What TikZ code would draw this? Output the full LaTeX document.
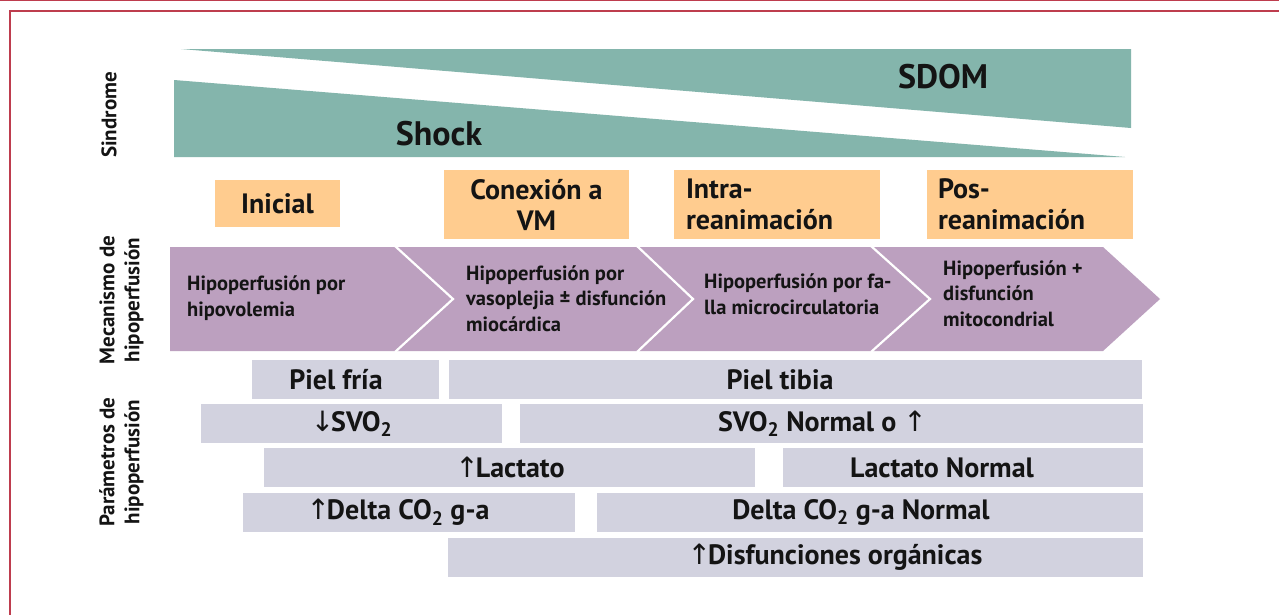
\documentclass[tikz,border=0pt]{standalone}
\usepackage{fontspec}
\setmainfont{PT Sans}
\newfontfamily\arrowfont{DejaVu Sans}
\newcommand{\myup}{{\arrowfont\mdseries ↑}}
\newcommand{\mydown}{{\arrowfont\mdseries ↓}}
\definecolor{teal1}{HTML}{84B5AC}
\definecolor{orng}{HTML}{FFCC8F}
\definecolor{purp}{HTML}{BCA0BF}
\definecolor{gry}{HTML}{D2D2DF}
\definecolor{frame}{HTML}{BE3D4E}
\definecolor{txt}{HTML}{141414}
\tikzset{
  vlabel/.style={rotate=90, font=\fontsize{21}{25}\selectfont\bfseries, text=txt, align=center, inner sep=0},
  obox/.style={fill=orng, inner sep=0, font=\fontsize{28}{31}\selectfont\bfseries, text=txt},
  mtext/.style={anchor=west, align=left, inner sep=0, font=\fontsize{20.5}{25.5}\selectfont\bfseries, text=txt},
  gbar/.style={fill=gry, inner sep=0, minimum height=38.5},
  gtext/.style={inner sep=0, font=\fontsize{28}{30}\selectfont\bfseries, text=txt},
  big/.style={inner sep=0, font=\fontsize{34}{40}\selectfont\bfseries, text=txt},
  sep/.style={draw=white, line width=2.2}
}
\begin{document}
\begin{tikzpicture}[x=1pt,y=-1pt]
\useasboundingbox (0,0) rectangle (1279,614);
\clip (0,0) rectangle (1279,614);
\fill[white] (0,0) rectangle (1279,614);
% frame
\draw[frame, line width=1] (0,0.5) -- (1279,0.5);
\draw[frame, line width=1.8] (9.8,640) -- (9.8,11) -- (1300,11);
% syndrome wedges
\fill[teal1] (181,49) -- (1131,49) -- (1131,128) -- cycle;
\fill[teal1] (174,80) -- (1125,157) -- (174,157) -- cycle;
\node[big] (sdom) at (943,77) {SDOM};
\node[big] (shock) at (439,134) {Shock};
% left labels
\node[vlabel] (sind) at (109,115) {Sindrome};
\node[vlabel] (mec) at (121.5,300) {Mecanismo de\\hipoperfusión};
\node[vlabel] (par) at (121.5,462) {Parámetros de\\hipoperfusión};
% phases
\node[obox, minimum width=125, minimum height=47] (ini) at (277.5,203.5) {Inicial};
\node[obox, minimum width=185, minimum height=69, align=center] (con) at (536.5,204.5) {Conexión a\\VM};
\node[obox, minimum height=69, text width=182, inner xsep=12, align=left] (intra) at (777,204.5) {Intra-\\reanimación};
\node[obox, minimum height=69, text width=184, inner xsep=11, align=left] (pos) at (1030,204.5) {Pos-\\reanimación};
% mechanism chevrons
\fill[purp] (170,247) -- (1103,247) -- (1160,299) -- (1103,351) -- (170,351) -- cycle;
\draw[sep] (395,246) -- (453,299) -- (395,352);
\draw[sep] (637,246) -- (693,299) -- (637,352);
\draw[sep] (871,246) -- (930,299) -- (871,352);
\node[mtext] (m1) at (187,298) {Hipoperfusión por\\hipovolemia};
\node[mtext] (m2) at (466,298.5) {Hipoperfusión por\\vasoplejia ± disfunción\\miocárdica};
\node[mtext] (m3) at (704,294.5) {Hipoperfusión por fa-\\lla microcirculatoria};
\node[mtext] (m4) at (943,293.5) {Hipoperfusión +\\disfunción\\mitocondrial};
% parameter bars
\node[gbar, minimum width=187] (pfria) at (345.5,379.5) {};
\node[gbar, minimum width=693] (ptibia) at (795.5,379.5) {};
\node[gbar, minimum width=301] (svo2a) at (351.5,423.5) {};
\node[gbar, minimum width=623] (svo2b) at (831.5,423.5) {};
\node[gbar, minimum width=491] (lact1) at (509.5,467.5) {};
\node[gbar, minimum width=360] (lact2) at (963,467.5) {};
\node[gbar, minimum width=332] (dco1) at (409,512.5) {};
\node[gbar, minimum width=546] (dco2) at (870,512.5) {};
\node[gbar, minimum width=695] (disf) at (795.5,557.5) {};
\node[gtext] (tpfria) at (336,379.5) {Piel fría};
\node[gtext] (tptibia) at (780,379.5) {Piel tibia};
\node[gtext] (tsvo2a) at (351.5,423.5) {\mydown\kern-3pt SVO\textsubscript{2}};
\node[gtext] (tsvo2b) at (822.5,423.5) {SVO\textsubscript{2} Normal o \myup};
\node[gtext] (tlact1) at (510,467.5) {\myup\kern-3pt Lactato};
\node[gtext] (tlact2) at (942,467.5) {Lactato Normal};
\node[gtext] (tdco1) at (398,512.5) {\myup\kern-3pt Delta CO\textsubscript{2} g-a};
\node[gtext] (tdco2) at (861,512.5) {Delta CO\textsubscript{2} g-a Normal};
\node[gtext] (tdisf) at (835,557.5) {\myup\kern-3pt Disfunciones orgánicas};
\end{tikzpicture}
\end{document}
